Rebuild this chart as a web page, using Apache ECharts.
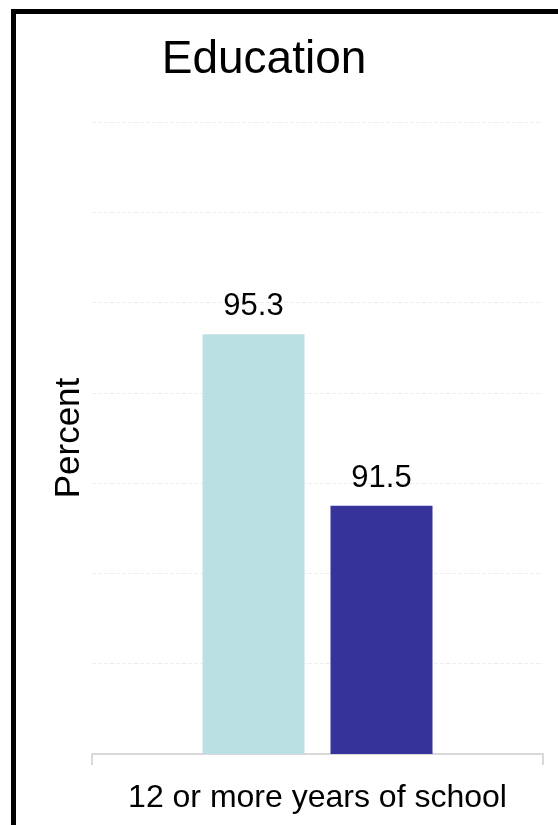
<!DOCTYPE html>
<html>
<head>
<meta charset="utf-8">
<script src="https://cdn.jsdelivr.net/npm/echarts@6/dist/echarts.min.js"></script>
<style>
html,body{margin:0;padding:0;background:#fff;overflow:hidden;}
#frame{position:absolute;left:11px;top:9px;width:600px;height:900px;border:5px solid #000;box-sizing:border-box;}
#chart{position:absolute;left:0;top:0;width:558px;height:825px;}
</style>
</head>
<body>
<div id="frame"></div>
<div id="chart"></div>
<script>
var categories = ['12 or more years of school'];
var seriesA = [95.3];
var seriesB = [91.5];
var colorA = '#BAE0E3';
var colorB = '#36349A';
var FONT = 'Liberation Sans';

var chart = echarts.init(document.getElementById('chart'), null, {renderer:'canvas'});
chart.setOption({
  animation:false,
  title:{
    text:'Education', left:259, top:32, textAlign:'center',
    textStyle:{fontFamily:FONT, fontSize:46, fontWeight:'normal', color:'#000'}
  },
  grid:{left:92, right:15, top:122, bottom:71},
  xAxis:{
    type:'category', data:categories,
    axisLine:{show:true, lineStyle:{color:'#d9d9d9', width:2}},
    axisTick:{show:true, length:11, lineStyle:{color:'#d9d9d9', width:2}},
    axisLabel:{fontFamily:FONT, fontSize:32, color:'#000', margin:28}
  },
  yAxis:{
    type:'value', min:86, max:100, interval:2,
    name:'Percent', nameLocation:'middle', nameGap:5,
    nameTextStyle:{fontFamily:FONT, fontSize:35, color:'#000'},
    axisLabel:{show:false}, axisLine:{show:false}, axisTick:{show:false},
    splitLine:{show:true, lineStyle:{color:'#eeeeee', type:'dashed', width:1}}
  },
  series:[
    {type:'bar', data:seriesA, barWidth:102, barGap:'25.5%', itemStyle:{color:colorA},
     label:{show:true, position:'top', distance:12, fontFamily:FONT, fontSize:31, color:'#000'}},
    {type:'bar', data:seriesB, barWidth:102, itemStyle:{color:colorB},
     label:{show:true, position:'top', distance:12, fontFamily:FONT, fontSize:31, color:'#000'}}
  ]
});
</script>
</body>
</html>
